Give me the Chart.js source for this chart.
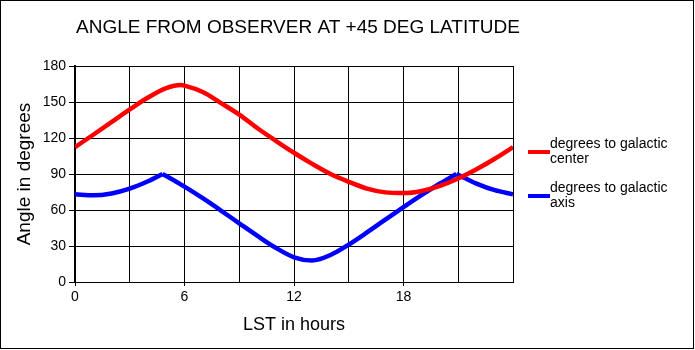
<!DOCTYPE html>
<html>
<head>
<meta charset="utf-8">
<script src="https://cdn.jsdelivr.net/npm/chart.js@4.4.0/dist/chart.umd.min.js"></script>
<style>
  body { margin: 0; background: #fff; }
  canvas { display: block; }
</style>
</head>
<body>
<canvas id="angleChart" width="695" height="350"></canvas>
<script>
var titleText = 'ANGLE FROM OBSERVER AT +45 DEG LATITUDE';
var xTitle = 'LST in hours';
var yTitle = 'Angle in degrees';

// legend text as it wraps in the picture
var seriesLines = [['degrees to galactic', 'center'], ['degrees to galactic', 'axis']];
var seriesColors = ['#ff0000', '#0000ff'];

// red curve, read at each hour (plus the top near 5.8h)
var centerHours = [0, 1, 2, 3, 4, 5, 5.8, 6, 7, 8, 9, 10, 11, 12, 13, 14, 15, 16, 17, 18, 19, 20, 21, 22, 23, 24];
var centerDeg = [112.4, 122.7, 133.2, 143.8, 153.7, 161.6, 164.2, 163.7, 158.3, 149.1, 139.5, 128.1, 117.7, 107.7, 98.4, 90.0, 83.5, 77.8, 74.7, 74.1, 75.9, 80.1, 86.2, 93.9, 102.7, 112.4];

// blue curve, the two sharp peaks are split with a null so they stay pointed
var axisHours = [0, 1, 2, 3, 4, 4.8, 4.8, 4.8, 5, 6, 7, 8, 9, 10, 11, 12, 13, 14, 15, 16, 17, 18, 19, 20, 20.9, 20.9, 20.9, 21, 22, 23, 24];
var axisDeg = [73.1, 72.2, 73.8, 77.8, 83.9, 90, null, 90, 88.4, 79.5, 69.8, 59.5, 48.9, 38.4, 28.5, 20.6, 17.9, 22.5, 31.2, 41.3, 51.9, 62.4, 72.6, 82.1, 90, null, 90, 89.3, 82.0, 76.5, 73.1];

var xLabelHours = [0, 6, 12, 18];

function toPoints(xs, ys) {
	var pts = [];
	for (var i = 0; i < xs.length; i++)
		pts.push({x: xs[i], y: ys[i]});
	return pts;
}

var fontName = "'Liberation Sans', Arial, sans-serif";

var framePlugin = {
	id: 'frame',
	beforeDraw: function(chart) {
		var ctx = chart.ctx;
		ctx.save();
		ctx.fillStyle = '#fff';
		ctx.fillRect(0, 0, chart.width, chart.height);
		ctx.restore();
	},
	afterDraw: function(chart) {
		var ctx = chart.ctx;
		ctx.save();
		ctx.strokeStyle = '#000';
		ctx.lineWidth = 1;
		ctx.strokeRect(0.5, 0.5, chart.width - 2, chart.height - 2);

		// title, left aligned with the plot
		ctx.fillStyle = '#000';
		ctx.font = '19px ' + fontName;
		ctx.textBaseline = 'alphabetic';
		ctx.textAlign = 'left';
		ctx.fillText(titleText, 76, 33);

		// legend at the right
		var x0 = chart.chartArea.right + 15;
		var tops = [144, 188];
		ctx.font = '14px ' + fontName;
		ctx.textBaseline = 'middle';
		chart.data.datasets.forEach(function(ds, i) {
			var y = tops[i];
			ctx.strokeStyle = ds.borderColor;
			ctx.lineWidth = 4;
			ctx.beginPath();
			ctx.moveTo(x0, y + 8);
			ctx.lineTo(x0 + 22, y + 8);
			ctx.stroke();
			ctx.fillStyle = '#000';
			seriesLines[i].forEach(function(line, j) {
				ctx.fillText(line, x0 + 22, y + j * 15.5);
			});
		});
		ctx.restore();
	}
};

var ctx = document.getElementById('angleChart').getContext('2d');

var chart = new Chart(ctx, {
	type: 'line',
	data: {
		datasets: [{
			label: seriesLines[0].join(' '),
			data: toPoints(centerHours, centerDeg),
			borderColor: seriesColors[0],
			borderWidth: 4.5,
			pointRadius: 0,
			cubicInterpolationMode: 'monotone',
			fill: false
		}, {
			label: seriesLines[1].join(' '),
			data: toPoints(axisHours, axisDeg),
			borderColor: seriesColors[1],
			borderWidth: 4.5,
			pointRadius: 0,
			cubicInterpolationMode: 'monotone',
			spanGaps: false,
			fill: false
		}]
	},
	options: {
		responsive: false,
		animation: false,
		events: [],
		layout: {
			padding: {left: 0, right: 182, top: 66, bottom: 0}
		},
		plugins: {
			legend: { display: false },
			title: { display: false },
			tooltip: { enabled: false }
		},
		scales: {
			x: {
				type: 'linear',
				min: 0,
				max: 24,
				afterFit: function(scale) { scale.height = 68; },
				afterBuildTicks: function(scale) {
					var t = [];
					for (var h = 0; h <= 24; h += 3) t.push({value: h});
					scale.ticks = t;
				},
				ticks: {
					autoSkip: false,
					maxRotation: 0,
					padding: 3,
					color: '#000',
					font: { family: fontName, size: 14 },
					callback: function(v) {
						return xLabelHours.indexOf(v) >= 0 ? String(v) : '';
					}
				},
				grid: {
					color: '#000',
					lineWidth: 1,
					tickLength: 4,
					tickColor: function(c) {
						return (c.tick && xLabelHours.indexOf(c.tick.value) >= 0) ? '#000' : 'rgba(0,0,0,0)';
					}
				},
				border: { color: '#000', width: 1 },
				title: {
					display: true,
					text: xTitle,
					color: '#000',
					font: { family: fontName, size: 18 },
					padding: { top: 0, bottom: 14 }
				}
			},
			y: {
				min: 0,
				max: 180,
				afterFit: function(scale) { scale.width = 75; },
				ticks: {
					stepSize: 30,
					padding: 3,
					color: '#000',
					font: { family: fontName, size: 14 }
				},
				grid: {
					color: '#000',
					lineWidth: 1,
					tickLength: 6,
					tickColor: '#000'
				},
				border: { color: '#000', width: 2 },
				title: {
					display: true,
					text: yTitle,
					color: '#000',
					font: { family: fontName, size: 19 },
					padding: { top: 13, bottom: 0 }
				}
			}
		}
	},
	plugins: [framePlugin]
});
</script>
</body>
</html>
